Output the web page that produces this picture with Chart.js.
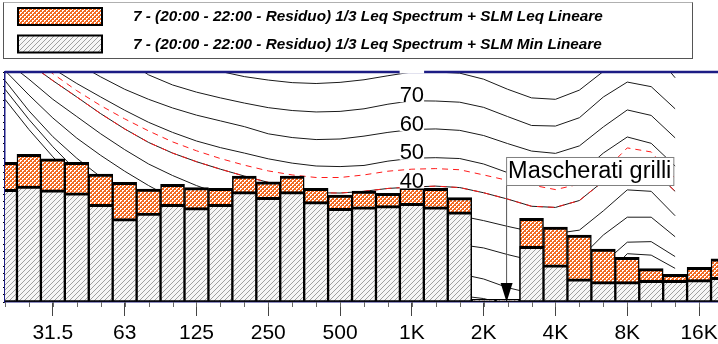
<!DOCTYPE html>
<html>
<head>
<meta charset="utf-8">
<script src="https://cdn.jsdelivr.net/npm/chart.js@4.4.0/dist/chart.umd.min.js"></script>
<style>
  html, body { margin: 0; padding: 0; background: #fff; overflow: hidden; }
  #wrap { width: 718px; height: 344px; overflow: hidden; position: relative; }
  canvas { display: block; }
</style>
</head>
<body>
<div id="wrap"><canvas id="spectrum" width="728" height="344"></canvas></div>
<script>
// 1/3 octave bands, 20 Hz .. 20 kHz
const bands = ['20','25','31.5','40','50','63','80','100','125','160','200','250','315','400','500','630','800',
  '1K','1.25K','1.6K','2K','2.5K','3.15K','4K','5K','6.3K','8K','10K','12.5K','16K','20K'];
const tickLabels = ['31.5','63','125','250','500','1K','2K','4K','8K','16K'];

const leqLabel = '7 - (20:00 - 22:00 - Residuo) 1/3 Leq Spectrum + SLM Leq Lineare';
const minLabel = '7 - (20:00 - 22:00 - Residuo) 1/3 Leq Spectrum + SLM Min Lineare';

// dB per band
const leqValues = [48.6, 51.4, 49.8, 48.6, 44.5, 41.6, 39.3, 40.9, 39.8, 39.5, 43.8, 41.8, 43.8, 39.5, 37.2, 38.6,
  37.8, 39.9, 39.5, 36.3, 0.9, 0.9, 29.1, 26.1, 23.3, 18.4, 15.5, 11.6, 9.6, 12.1, 15.0];
const minValues = [39.2, 40.3, 39.0, 38.0, 34.0, 29.0, 30.9, 34.0, 32.8, 34.0, 38.4, 36.4, 38.4, 34.9, 32.6, 33.1,
  33.5, 34.3, 33.1, 31.4, 0.9, 0.9, 19.4, 12.9, 8.1, 7.1, 7.1, 7.5, 7.5, 7.8, 8.6];

// isophonic curves (dB SPL per band, up to 12.5 kHz)
const phon80 = [112, 108, 104, 100, 96, 92, 88, 85, 82.5, 80.2, 78.4, 77.2, 76.3, 76, 76.4, 77.3, 78.7, 80, 80, 79.6,
  77.5, 74, 71, 70.5, 73.7, 80.2, 87, 88, 78, null, null];
const phon70 = [110, 104, 98.5, 93.5, 89, 84.5, 79, 75.5, 73, 71, 69.2, 67.6, 66.6, 66.1, 66.3, 67.2, 68.8, 70, 69.9, 69.5,
  67.7, 64.5, 61.4, 61.2, 64.1, 71.3, 76.5, 74.9, 67.2, null, null];
const phon60 = [103, 95.5, 89, 83, 78.3, 74, 70.5, 67.5, 65, 63, 61, 58.5, 57.2, 56.5, 56.7, 57.7, 59, 60, 60.2, 59.7,
  57.9, 55.1, 52.5, 51.7, 54.3, 60.9, 66.8, 64.9, 57.1, null, null];
const phon50 = [96, 88, 81.2, 76, 71.3, 66.7, 62.5, 59, 56, 53.7, 51.8, 49.8, 48.3, 47.3, 47.1, 47.5, 49, 50, 50.2, 49.9,
  48, 45, 42.5, 42, 44.5, 51.8, 57.4, 55.2, 47.3, null, null];
const limit45 = [92, 86, 79.4, 73.5, 68.3, 63.7, 59.5, 55.7, 52.6, 49.9, 47.6, 45.6, 44.2, 43.3, 43.3, 44.2, 45.5, 46.2,
  46.4, 46, 44.2, 42.3, 40.7, 39.1, 41, 45.2, 53.6, 52.2, 43, null, null];
const phon40 = [89, 83, 77, 71.3, 65.5, 60.2, 55.5, 51.8, 48.8, 46.2, 43.8, 41.6, 39.3, 38, 37.9, 38.5, 39.5, 40, 40.3, 39.8,
  38, 35.8, 33.3, 32.9, 35.3, 42, 48, 46.5, 38.5, null, null];
const phon30 = [84, 77.5, 70.5, 64.5, 58.5, 53, 48, 44, 40.5, 37.5, 35, 33, 31.2, 30, 29.5, 29.5, 29.8, 30, 30.2, 30,
  28.3, 26.3, 24.5, 23.8, 25, 31.7, 39, 38.5, 30, null, null];
const phon20 = [80.5, 72, 64, 57, 51, 45.5, 40.5, 36, 32, 28.5, 25.5, 23.3, 21.7, 20.6, 20, 19.8, 19.9, 20, 20.2, 20,
  18.8, 16.5, 14.5, 13.8, 15, 23.3, 29.5, 29.5, 22.7, null, null];
const phon10 = [77, 66.5, 57.5, 50, 43.5, 37.5, 32, 27, 23, 19.5, 16.5, 14, 12.2, 11, 10.3, 10, 10, 10, 10.2, 9.8,
  8, 5, 3, 2.5, 4, 13.5, 20.8, 21, 15.8, null, null];
const phon0 = [74, 63.5, 54, 45.5, 38.5, 32, 26, 21, 17, 13.5, 10.5, 8, 6, 4.5, 3.5, 2.8, 2.4, 2.4, 3.2, 2.2,
  1.2, -1, -3, -3, 0, 8, 16.8, 16.3, 11.7, null, null];
const threshold = [70.5, 60, 50.5, 42, 34.5, 27.5, 21.5, 16, 11.5, 7.5, 4.5, 2, 0, -1.5, -2.5, -3, -3, -3, -2.5, -3.5,
  -5, -7, -9, -9, -6, 0, 10, 10, 6, null, null];

const curveLabels = [80, 70, 60, 50, 40];
const curveLabelBand = '1K';

const noteText = 'Mascherati grilli';
const noteBand = '2.5K';
const noteLevel = 40.7;

const frameColor = '#1c1c84';
const sans = '"Liberation Sans", Arial, sans-serif';

// orange cross-hatch: white dots in a staggered lattice
function checkerTile() {
  const c = document.createElement('canvas');
  c.width = 4; c.height = 4;
  const g = c.getContext('2d');
  g.fillStyle = '#f26a22';
  g.fillRect(0, 0, 4, 4);
  g.fillStyle = '#ffffff';
  [[0,0],[1,0],[0,1],[2,2],[3,2],[2,3]].forEach(([i, j]) => g.fillRect(i, j, 1, 1));
  return c;
}

function hatchTile() {
  const c = document.createElement('canvas');
  c.width = 5; c.height = 5;
  const g = c.getContext('2d');
  g.fillStyle = '#f6f6f6';
  g.fillRect(0, 0, 5, 5);
  g.fillStyle = '#a0a0a0';
  for (let i = 0; i < 5; i++) g.fillRect(4 - i, i, 1, 1);
  return c;
}

const canvas = document.getElementById('spectrum');
const ctx0 = canvas.getContext('2d');
const leqFill = ctx0.createPattern(checkerTile(), 'repeat');
const minFill = ctx0.createPattern(hatchTile(), 'repeat');

const barBorder = { top: 3, left: 1.5, right: 1.5, bottom: 1.5 };

function bars(label, data, fill, order) {
  return {
    type: 'bar', label, data,
    backgroundColor: fill, borderColor: '#000', borderWidth: barBorder, borderSkipped: false,
    grouped: false, barPercentage: 1, categoryPercentage: 1, order, clip: 0
  };
}

function curve(data, color, dash, order) {
  return {
    type: 'line', label: '', data,
    borderColor: color, borderWidth: 1, borderDash: dash,
    pointRadius: 0, tension: 0, fill: false, spanGaps: false, order, clip: 0
  };
}

const overlay = {
  id: 'overlay',
  afterDatasetsDraw(chart) {
    const { ctx, chartArea: a, scales: { x, y } } = chart;
    ctx.save();

    // top frame
    ctx.strokeStyle = frameColor;
    ctx.lineWidth = 2.5;
    ctx.beginPath();
    ctx.moveTo(a.left, a.top);
    ctx.lineTo(a.right, a.top);
    ctx.stroke();

    // level labels sitting on the curves
    const lx = x.getPixelForValue(bands.indexOf(curveLabelBand));
    ctx.font = '22px ' + sans;
    ctx.textAlign = 'center';
    ctx.textBaseline = 'alphabetic';
    curveLabels.forEach(level => {
      const ly = y.getPixelForValue(level);
      const txt = String(level);
      const w = ctx.measureText(txt).width;
      ctx.save();
      ctx.beginPath();
      ctx.rect(a.left, a.top - 2, a.right - a.left, a.bottom - a.top + 2);
      ctx.clip();
      ctx.fillStyle = '#fff';
      ctx.fillRect(lx - w / 2, ly - 16, w, 17.5);
      ctx.restore();
      ctx.save();
      ctx.beginPath();
      ctx.rect(a.left, a.top + 2, a.right - a.left, a.bottom - a.top - 2);
      ctx.clip();
      ctx.fillStyle = '#000';
      ctx.fillText(txt, lx, ly + 1);
      ctx.restore();
    });

    // note with arrow
    const nx = x.getPixelForValue(bands.indexOf(noteBand)) - 1.5;
    const ny = y.getPixelForValue(noteLevel);
    const base = y.getPixelForValue(0);
    ctx.font = '23.5px ' + sans;
    ctx.textAlign = 'left';
    const tw = ctx.measureText(noteText).width;
    ctx.strokeStyle = '#555';
    ctx.lineWidth = 1;
    ctx.beginPath();
    ctx.moveTo(nx + 0.5, ny);
    ctx.lineTo(nx + 0.5, base - 19);
    ctx.stroke();
    ctx.fillStyle = '#000';
    ctx.beginPath();
    ctx.moveTo(nx - 5.5, base - 19);
    ctx.lineTo(nx + 6.5, base - 19);
    ctx.lineTo(nx + 0.5, base);
    ctx.closePath();
    ctx.fill();
    ctx.fillStyle = '#fff';
    ctx.fillRect(nx, ny - 28, tw + 4, 28);
    ctx.strokeStyle = '#808080';
    ctx.strokeRect(nx + 0.5, ny - 27.5, tw + 4, 28);
    ctx.fillStyle = '#000';
    ctx.fillText(noteText, nx + 2, ny - 6.5);

    ctx.restore();
  },
  afterDraw(chart) {
    const { ctx, chartArea: a, scales: { x } } = chart;
    ctx.save();

    // minor ticks on every band
    ctx.strokeStyle = '#666';
    ctx.lineWidth = 1;
    bands.forEach((b, i) => {
      const px = Math.round(x.getPixelForValue(i)) + 0.5;
      ctx.beginPath();
      ctx.moveTo(px, a.bottom);
      ctx.lineTo(px, a.bottom + 5);
      ctx.stroke();
    });

    // legend
    ctx.strokeStyle = '#555';
    ctx.strokeRect(3.5, 2.5, 689, 56);
    ctx.strokeStyle = '#b0b0b0';
    ctx.beginPath();
    ctx.moveTo(3.5, 2.5);
    ctx.lineTo(692.5, 2.5);
    ctx.stroke();

    const rows = [
      { ds: chart.data.datasets[1], top: 8 },
      { ds: chart.data.datasets[0], top: 35.5 }
    ];
    ctx.font = 'italic bold 15.3px ' + sans;
    ctx.textAlign = 'left';
    ctx.textBaseline = 'middle';
    rows.forEach(r => {
      ctx.fillStyle = r.ds.backgroundColor;
      ctx.fillRect(18, r.top, 84, 17);
      ctx.strokeStyle = '#000';
      ctx.lineWidth = 2;
      ctx.strokeRect(18, r.top, 84, 17);
      ctx.fillStyle = '#000';
      ctx.fillText(r.ds.label, 133, r.top + 9);
    });

    ctx.restore();
  }
};

new Chart(canvas, {
  type: 'bar',
  data: {
    labels: bands,
    datasets: [
      bars(minLabel, minValues, minFill, 1),
      bars(leqLabel, leqValues, leqFill, 2),
      curve(limit45, '#ff1a1a', [6, 5], 4),
      curve(phon40, '#ff1a1a', [6, 5], 4),
      curve(phon80, '#1a1a1a', [], 6),
      curve(phon70, '#1a1a1a', [], 6),
      curve(phon60, '#1a1a1a', [], 6),
      curve(phon50, '#1a1a1a', [], 6),
      curve(phon40, '#1a1a1a', [], 6),
      curve(phon30, '#1a1a1a', [], 6),
      curve(phon20, '#1a1a1a', [], 6),
      curve(phon10, '#1a1a1a', [], 6),
      curve(phon0, '#1a1a1a', [], 6),
      curve(threshold, '#1a1a1a', [], 6)
    ]
  },
  options: {
    responsive: false,
    animation: false,
    layout: { padding: { top: 72, left: 0, right: 3, bottom: 0 } },
    plugins: { legend: { display: false }, tooltip: { enabled: false } },
    scales: {
      x: {
        type: 'category',
        offset: false,
        grid: {
          offset: false,
          drawOnChartArea: false,
          drawTicks: true,
          tickLength: 14,
          tickColor: c => tickLabels.includes(bands[c.index]) ? '#444' : 'rgba(0,0,0,0)'
        },
        border: { color: frameColor, width: 1.5 },
        ticks: {
          autoSkip: false,
          maxRotation: 0,
          padding: 5,
          color: '#000',
          font: { family: sans, size: 21 },
          callback: (v, i) => tickLabels.includes(bands[i]) ? bands[i] : ''
        },
        afterFit: s => { s.height = 42; }
      },
      y: {
        min: 0,
        max: 80,
        ticks: { display: false, stepSize: 2.5 },
        grid: { drawOnChartArea: false, drawTicks: true, tickLength: 2, color: '#000' },
        border: { color: frameColor, width: 1.5 },
        afterFit: s => { s.width = 2; }
      }
    }
  },
  plugins: [overlay]
});
</script>
</body>
</html>
